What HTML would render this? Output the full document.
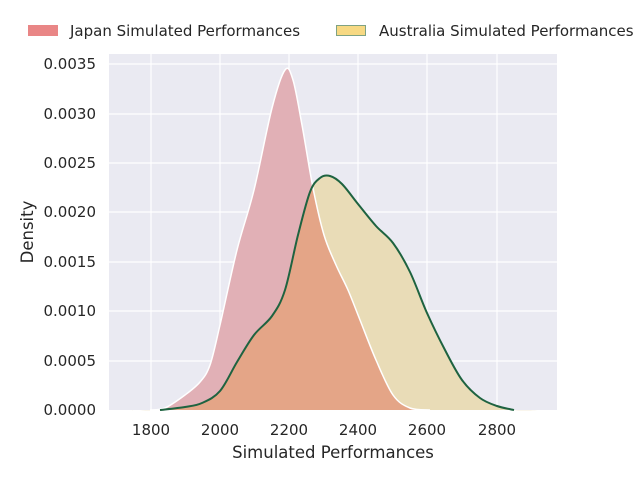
<!DOCTYPE html>
<html><head><style>body{margin:0;background:#fff;}svg{display:block;font-family:"DejaVu Sans","Liberation Sans",sans-serif;}</style></head>
<body>
<svg width="640" height="480" viewBox="0 0 640 480">
<defs>
<clipPath id="aus"><path id="ausclip" d=""/></clipPath>
</defs>
<rect x="109" y="54" width="448" height="356" fill="#eaeaf2"/>
<g stroke="#fff" stroke-width="1.2">
<line x1="151" y1="54" x2="151" y2="410"/><line x1="220" y1="54" x2="220" y2="410"/><line x1="289" y1="54" x2="289" y2="410"/><line x1="358" y1="54" x2="358" y2="410"/><line x1="427" y1="54" x2="427" y2="410"/><line x1="497" y1="54" x2="497" y2="410"/>
<line x1="109" y1="64" x2="557" y2="64"/><line x1="109" y1="114" x2="557" y2="114"/><line x1="109" y1="163" x2="557" y2="163"/><line x1="109" y1="212" x2="557" y2="212"/><line x1="109" y1="262" x2="557" y2="262"/><line x1="109" y1="311" x2="557" y2="311"/><line x1="109" y1="361" x2="557" y2="361"/>
</g>
<path id="ausfill" fill="#e9dcb7"/>
<path id="jpfill" fill="#e1b0b6"/>
<path id="ovl" fill="#e4a587" clip-path="url(#aus)"/>
<path id="jpline" fill="none" stroke="#fff" stroke-width="1.5"/>
<path id="ausline" fill="none" stroke="#1e6340" stroke-width="2"/>
<g font-size="15" fill="#262626" text-anchor="middle">
<text x="151" y="435">1800</text><text x="220" y="435">2000</text><text x="289" y="435">2200</text><text x="358" y="435">2400</text><text x="427" y="435">2600</text><text x="497" y="435">2800</text>
<text x="333" y="458" font-size="16.5">Simulated Performances</text>
</g>
<g font-size="15" fill="#262626" text-anchor="end">
<text x="96" y="415">0.0000</text><text x="96" y="366">0.0005</text><text x="96" y="316">0.0010</text><text x="96" y="267">0.0015</text><text x="96" y="217">0.0020</text><text x="96" y="168">0.0025</text><text x="96" y="119">0.0030</text><text x="96" y="69">0.0035</text>
</g>
<text x="33" y="232" font-size="16.5" fill="#262626" text-anchor="middle" transform="rotate(-90 33 232)">Density</text>
<rect x="28" y="25" width="30" height="11" fill="#e98686"/>
<text x="70" y="36" font-size="15" fill="#262626">Japan Simulated Performances</text>
<rect x="336.5" y="25.5" width="29" height="10" fill="#f7d983" stroke="#7fa283"/>
<text x="379" y="36" font-size="15" fill="#262626">Australia Simulated Performances</text>
</svg>
<script>
function cr(p){var d="M"+p[0][0]+","+p[0][1];for(var i=0;i<p.length-1;i++){var a=p[i-1]||p[i],b=p[i],c=p[i+1],e=p[i+2]||c;d+=" C"+(b[0]+(c[0]-a[0])/6)+","+(b[1]+(c[1]-a[1])/6)+" "+(c[0]-(e[0]-b[0])/6)+","+(c[1]-(e[1]-b[1])/6)+" "+c[0]+","+c[1];}return d;}
var jp=[[150,410],[165,408],[185,395],[200,382],[210,365],[220,325],[237,250],[254,190],[272,108],[285,70],[293,80],[302,125],[313,188],[324,235],[336,265],[348,290],[360,320],[376,360],[393,395],[410,408],[430,410]];
var au=[[128,410],[160,410],[185,407],[202,403],[220,391],[237,362],[254,335],[272,316],[285,290],[298,235],[310,192],[320,178],[330,176],[342,184],[358,204],[376,226],[393,243],[410,272],[427,313],[445,350],[462,380],[480,398],[497,406],[514,410],[540,410]];
var dj=cr(jp), da=cr(au);
document.getElementById("ausfill").setAttribute("d",da+" Z");
document.getElementById("ausclip").setAttribute("d",da+" Z");
document.getElementById("jpfill").setAttribute("d",dj+" Z");
document.getElementById("ovl").setAttribute("d",dj+" Z");
document.getElementById("jpline").setAttribute("d",dj);
document.getElementById("ausline").setAttribute("d",cr(au.slice(1,-1)));
</script>
</body></html>
